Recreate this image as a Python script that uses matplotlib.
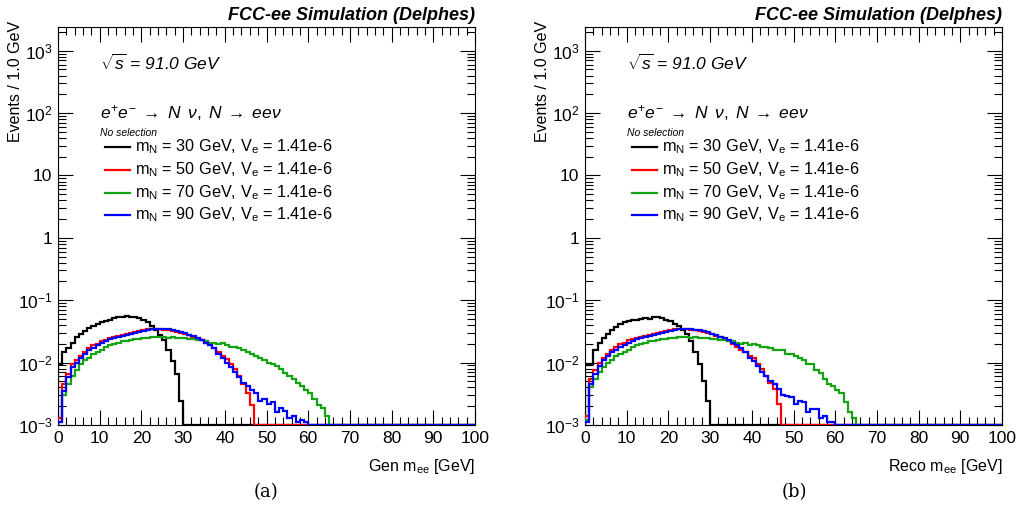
import numpy as np
import matplotlib.pyplot as plt
from matplotlib.ticker import FixedLocator, MultipleLocator, LogLocator, NullFormatter

plt.rcParams['font.family'] = ['Liberation Sans', 'DejaVu Sans']
plt.rcParams['mathtext.fontset'] = 'custom'
plt.rcParams['mathtext.rm'] = 'Liberation Sans'
plt.rcParams['mathtext.it'] = 'Liberation Sans:italic'
plt.rcParams['mathtext.bf'] = 'Liberation Sans:bold'

# Datos: eventos por bin de 1 GeV (0-100 GeV), bins vacios = 0
nbins = 100
edges = np.arange(0, nbins + 1)

masas = ["30", "50", "70", "90"]
colores = ["black", "#ff0000", "#13a313", "#0000ff"]

gen_30 = [0.0095, 0.015, 0.017, 0.021, 0.026, 0.029, 0.032, 0.036, 0.039, 0.042,
          0.045, 0.047, 0.049, 0.051, 0.053, 0.054, 0.055, 0.054, 0.053, 0.051,
          0.049, 0.044, 0.038, 0.033, 0.028, 0.023, 0.016, 0.0105, 0.0065, 0.0024]
gen_50 = [0.0013, 0.0045, 0.0065, 0.0095, 0.011, 0.013, 0.015, 0.017, 0.019, 0.020,
          0.022, 0.023, 0.025, 0.026, 0.027, 0.028, 0.029, 0.030, 0.031, 0.032,
          0.033, 0.034, 0.034, 0.034, 0.034, 0.033, 0.033, 0.032, 0.031, 0.030,
          0.029, 0.028, 0.026, 0.025, 0.023, 0.021, 0.019, 0.017, 0.015, 0.013,
          0.0115, 0.0095, 0.0078, 0.006, 0.0045, 0.0033, 0.0021]
gen_70 = [0.0011, 0.003, 0.0045, 0.006, 0.0075, 0.0095, 0.011, 0.012, 0.014, 0.015,
          0.016, 0.018, 0.019, 0.020, 0.021, 0.022, 0.022, 0.023, 0.024, 0.024,
          0.025, 0.025, 0.026, 0.026, 0.026, 0.026, 0.025, 0.026, 0.025, 0.025,
          0.025, 0.024, 0.024, 0.023, 0.023, 0.022, 0.021, 0.021, 0.020, 0.021,
          0.019, 0.018, 0.018, 0.017, 0.016, 0.015, 0.014, 0.013, 0.012, 0.011,
          0.010, 0.0095, 0.0088, 0.0078, 0.0068, 0.0062, 0.0055, 0.0048, 0.0042, 0.0036,
          0.0033, 0.0026, 0.0021, 0.0019, 0.0014]
gen_90 = [0.0011, 0.0035, 0.0058, 0.0085, 0.010, 0.012, 0.014, 0.016, 0.017, 0.019,
          0.021, 0.022, 0.024, 0.025, 0.026, 0.027, 0.028, 0.029, 0.030, 0.031,
          0.032, 0.033, 0.034, 0.034, 0.035, 0.034, 0.034, 0.033, 0.032, 0.031,
          0.030, 0.028, 0.027, 0.025, 0.023, 0.021, 0.019, 0.017, 0.014, 0.012,
          0.010, 0.0085, 0.0072, 0.0058, 0.0048, 0.0042, 0.0036, 0.0033, 0.0024, 0.0026,
          0.0022, 0.0023, 0.0016, 0.0019, 0.0017, 0.0013, 0.0014, 0.0011, 0.0012, 0.0011]

reco_30 = [0.0093, 0.0095, 0.016, 0.021, 0.025, 0.029, 0.033, 0.037, 0.041, 0.044,
           0.046, 0.048, 0.049, 0.050, 0.052, 0.050, 0.053, 0.054, 0.052, 0.048,
           0.046, 0.042, 0.038, 0.033, 0.029, 0.022, 0.015, 0.0095, 0.005, 0.0024]
reco_50 = [0.0014, 0.0055, 0.0075, 0.0098, 0.012, 0.014, 0.016, 0.018, 0.020, 0.021,
           0.023, 0.024, 0.025, 0.026, 0.027, 0.028, 0.029, 0.030, 0.031, 0.032,
           0.033, 0.034, 0.034, 0.034, 0.034, 0.033, 0.033, 0.032, 0.031, 0.030,
           0.029, 0.027, 0.026, 0.024, 0.022, 0.020, 0.018, 0.016, 0.015, 0.013,
           0.012, 0.0095, 0.0078, 0.006, 0.0048, 0.0038, 0.0022]
reco_70 = [0.0012, 0.004, 0.0055, 0.007, 0.0085, 0.010, 0.011, 0.013, 0.014, 0.015,
           0.016, 0.018, 0.019, 0.020, 0.021, 0.022, 0.022, 0.023, 0.024, 0.024,
           0.025, 0.025, 0.026, 0.026, 0.026, 0.025, 0.026, 0.025, 0.025, 0.025,
           0.024, 0.024, 0.023, 0.023, 0.022, 0.022, 0.021, 0.020, 0.021, 0.019,
           0.020, 0.019, 0.018, 0.018, 0.017, 0.016, 0.016, 0.016, 0.014, 0.0135,
           0.013, 0.012, 0.0112, 0.0095, 0.0095, 0.0077, 0.0068, 0.0055, 0.0045, 0.0042,
           0.0036, 0.0033, 0.0023, 0.0016, 0.0013]
reco_90 = [0.0011, 0.0045, 0.0065, 0.0088, 0.011, 0.013, 0.015, 0.016, 0.018, 0.019,
           0.021, 0.022, 0.024, 0.025, 0.026, 0.027, 0.028, 0.029, 0.030, 0.031,
           0.032, 0.033, 0.034, 0.034, 0.034, 0.034, 0.033, 0.033, 0.032, 0.031,
           0.029, 0.028, 0.026, 0.025, 0.023, 0.021, 0.019, 0.017, 0.015, 0.012,
           0.0105, 0.0088, 0.0072, 0.006, 0.005, 0.0045, 0.0038, 0.003, 0.0029, 0.0028,
           0.0022, 0.0024, 0.0023, 0.0016, 0.0018, 0.0018, 0.0013, 0.0014, 0.0011, 0.0011]

gen = [gen_30, gen_50, gen_70, gen_90]
reco = [reco_30, reco_50, reco_70, reco_90]

ymin, ymax = 1e-3, 2.4e3
ytick_vals = [1e-3, 1e-2, 1e-1, 1, 10, 1e2, 1e3]
ytick_labels = [r"$10^{-3}$", r"$10^{-2}$", r"$10^{-1}$", "1", "10", r"$10^{2}$", r"$10^{3}$"]


def dibujar_panel(ax, series, xlabel):
    for vals, color in zip(series, colores):
        h = np.zeros(nbins)
        h[:len(vals)] = vals
        # ROOT dibuja los bins vacios sobre el borde inferior
        h = np.maximum(h, ymin)
        ax.stairs(h, edges, color=color, lw=1.6, baseline=ymin, zorder=3)

    ax.set_yscale("log")
    ax.set_xlim(0, 100)
    ax.set_ylim(ymin, ymax)
    ax.yaxis.set_major_locator(FixedLocator(ytick_vals))
    ax.set_yticklabels(ytick_labels)
    ax.yaxis.set_minor_locator(LogLocator(base=10, subs=np.arange(2, 10), numticks=20))
    ax.yaxis.set_minor_formatter(NullFormatter())
    ax.xaxis.set_major_locator(MultipleLocator(10))
    ax.xaxis.set_minor_locator(MultipleLocator(2))
    ax.tick_params(which="both", direction="in", top=True, right=True, labelsize=12.5, width=0.8)
    ax.tick_params(which="major", axis="x", length=11, pad=4)
    ax.tick_params(which="minor", axis="x", length=5.5)
    ax.tick_params(which="major", axis="y", length=11, pad=4)
    ax.tick_params(which="minor", axis="y", length=5.5)
    for s in ax.spines.values():
        s.set_linewidth(0.8)

    ax.set_xlabel(xlabel, fontsize=11.5, loc="right", labelpad=8)
    ax.set_ylabel("Events / 1.0 GeV", fontsize=11.5, loc="top")
    ax.yaxis.set_label_coords(-0.085, 1.015)
    ax.set_title("FCC-ee Simulation (Delphes)", loc="right", fontsize=13,
                 fontweight="bold", fontstyle="italic", pad=5)

    ax.text(0.10, 0.910, r"$\sqrt{s}$ = 91.0 GeV", transform=ax.transAxes,
            fontsize=12.5, fontstyle="italic", va="center")
    ax.text(0.10, 0.784, r"$e^{+}e^{-}\;\rightarrow\;N\;\;\nu,\;N\;\rightarrow\;ee\nu$",
            transform=ax.transAxes, fontsize=12.5, va="center")
    ax.text(0.10, 0.733, "No selection", transform=ax.transAxes,
            fontsize=7.5, fontstyle="italic", va="center")
    ys = [0.699, 0.641, 0.584, 0.528]
    for m, color, y in zip(masas, colores, ys):
        ax.plot([0.113, 0.173], [y, y], color=color, lw=1.6, transform=ax.transAxes)
        ax.text(0.185, y, r"m$_{\rm N}$ = " + m + r" GeV, V$_{\rm e}$ = 1.41e-6",
                transform=ax.transAxes, fontsize=11.7, va="center")


fig = plt.figure(figsize=(10.16, 5.22), dpi=100)
ax1 = fig.add_axes([58 / 1016, 1 - 425 / 522, (475 - 58) / 1016, (425 - 27) / 522])
ax2 = fig.add_axes([585 / 1016, 1 - 425 / 522, (1002 - 585) / 1016, (425 - 27) / 522])

dibujar_panel(ax1, gen, r"Gen m$_{\rm ee}$ [GeV]")
dibujar_panel(ax2, reco, r"Reco m$_{\rm ee}$ [GeV]")

fig.text(266 / 1016, 1 - 492 / 522, "(a)", fontsize=13, family="DejaVu Serif", ha="center", va="center")
fig.text(794 / 1016, 1 - 492 / 522, "(b)", fontsize=13, family="DejaVu Serif", ha="center", va="center")

plt.savefig("out.png", dpi=100)
